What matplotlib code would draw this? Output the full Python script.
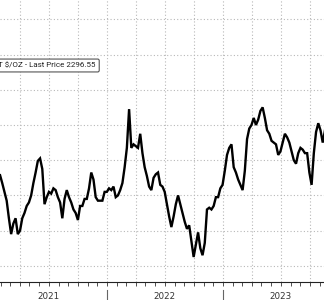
import pandas as pd
import matplotlib
matplotlib.use("Agg")
import matplotlib.pyplot as plt
import matplotlib.dates as mdates
import matplotlib.transforms as mtransforms

# weekly gold spot price (USD/oz)
dates = pd.date_range("2021-01-08", periods=151, freq="W-FRI")
prices = [
    1850, 1860, 1860, 1858, 1835, 1810, 1785, 1735, 1690, 1720,
    1735, 1690, 1700, 1735, 1750, 1770, 1780, 1800, 1835, 1865,
    1898, 1905, 1875, 1775, 1795, 1810, 1805, 1820, 1815, 1795,
    1780, 1735, 1790, 1815, 1795, 1780, 1760, 1750, 1730, 1770,
    1770, 1790, 1790, 1820, 1865, 1845, 1795, 1785, 1785, 1785,
    1810, 1810, 1820, 1815, 1825, 1795, 1800, 1815, 1835, 1880,
    1935, 2045, 1935, 1945, 1940, 1935, 1975, 1920, 1880, 1855,
    1825, 1815, 1850, 1860, 1865, 1830, 1825, 1810, 1775, 1740,
    1710, 1740, 1775, 1800, 1775, 1750, 1725, 1705, 1715, 1670,
    1625, 1660, 1695, 1650, 1630, 1665, 1760, 1765, 1760, 1770,
    1795, 1795, 1820, 1830, 1870, 1915, 1935, 1945, 1880, 1865,
    1845, 1830, 1815, 1870, 1960, 1990, 2000, 2020, 2000, 2015,
    2040, 2050, 2020, 1985, 1975, 1955, 1950, 1945, 1915, 1925,
    1950, 1975, 1965, 1950, 1925, 1900, 1890, 1920, 1935, 1930,
    1920, 1920, 1865, 1830, 1920, 1980, 2005, 1985, 1950, 1985,
    1995,
]
years = [2021, 2022, 2023]
legend_text = "GOLD SPOT $/OZ - Last Price 2296.55"

fig = plt.figure(figsize=(3.24, 3.0), dpi=100)
ax = fig.add_axes([0, 0.06, 1, 0.94])

ax.plot(dates, prices, color="black", linewidth=1.7, solid_joinstyle="miter")

ax.set_xlim(pd.Timestamp("2021-01-29"), pd.Timestamp("2023-11-14"))
ax.set_ylim(1554, 2355)

# grid: quarters vertically, 100 USD horizontally
ax.set_yticks(range(1600, 2400, 100))
ax.xaxis.set_major_locator(mdates.MonthLocator(bymonth=[1, 4, 7, 10]))
ax.xaxis.set_minor_locator(mdates.MonthLocator())
ax.grid(True, which="major", color="#b8b8b8", linestyle=(0, (1, 2)), linewidth=0.8)
ax.tick_params(axis="y", left=False, labelleft=False)
ax.tick_params(axis="x", which="both", direction="out", length=3, width=0.6,
               color="#333333", labelbottom=False)

for s in ["top", "left", "right"]:
    ax.spines[s].set_visible(False)
ax.spines["bottom"].set_color("#222222")
ax.spines["bottom"].set_linewidth(0.8)

# year separators and labels under the axis
trans = mtransforms.blended_transform_factory(ax.transData, ax.transAxes)
for yr in years + [years[-1] + 1]:
    x0 = mdates.date2num(pd.Timestamp(f"{yr}-01-01"))
    ax.plot([x0, x0], [-0.027, -0.07], color="#666666", linewidth=0.8,
            transform=trans, clip_on=False)
for yr in years:
    mid = mdates.date2num(pd.Timestamp(f"{yr}-07-01"))
    ax.text(mid, -0.05, str(yr), transform=trans, ha="center", va="center",
            fontsize=6.3, color="#333333")

fig.text(96 / 324, 1 - 65.5 / 300, legend_text, ha="right", va="center",
         fontsize=5.8, color="#222222",
         family=["Liberation Sans Narrow", "Roboto", "DejaVu Sans"],
         bbox=dict(boxstyle="round,pad=0.4,rounding_size=0.2", fc="white",
                   ec="#555555", lw=0.8))

fig.savefig("out.png", dpi=100)
